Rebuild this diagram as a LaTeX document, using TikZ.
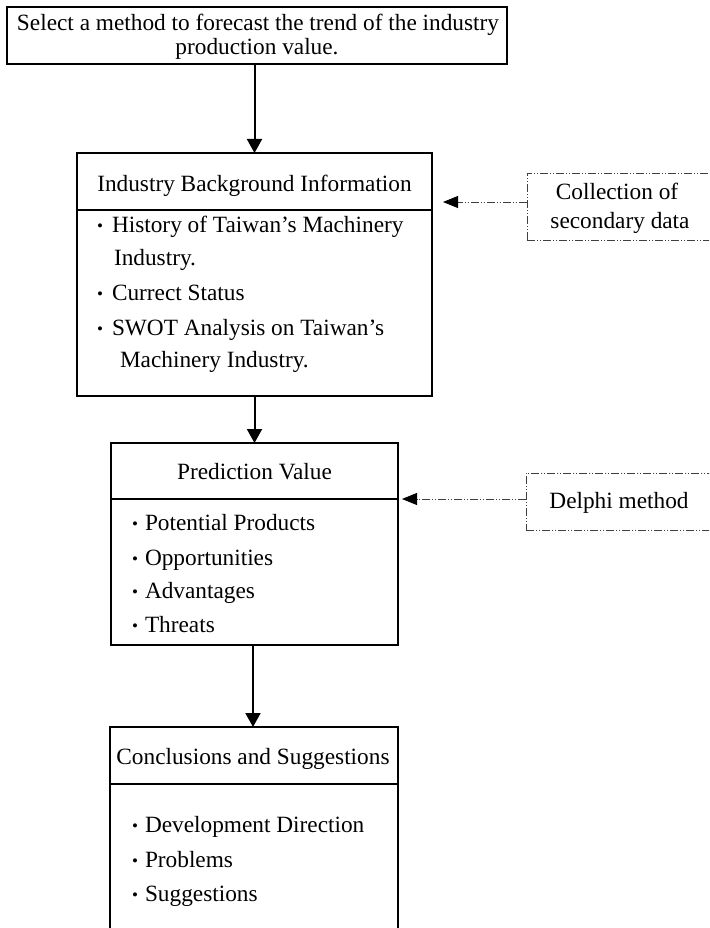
\documentclass[tikz,border=0pt]{standalone}
\usepackage{fontspec}
\setmainfont{Liberation Serif}
\usetikzlibrary{arrows.meta}
\newcommand\fsz{\fontsize{23.3pt}{25pt}\selectfont}
\newcommand\itemdot[1]{\makebox[#1][l]{\raisebox{0.5pt}{\fontsize{17pt}{17pt}\selectfont •}}}
\begin{document}
\begin{tikzpicture}[x=1pt,y=-1pt,
  every node/.style={font=\fsz, inner sep=0pt, outer sep=0pt},
  boxframe/.style={draw, line width=2pt, rectangle},
  dashframe/.style={draw=black!75, line width=0.8pt, rectangle,
    dash pattern=on 8pt off 2pt on 1pt off 2pt on 1pt off 2pt},
  divider/.style={line width=1.8pt},
  flow/.style={line width=2pt, -{Triangle[length=14pt,width=15pt]}},
  feed/.style={draw=black!75, line width=0.8pt,
    dash pattern=on 8pt off 2pt on 1pt off 2pt on 1pt off 2pt,
    -{Triangle[length=15pt,width=12pt,fill=black,color=black]}},
  txt/.style={anchor=base},
  itm/.style={anchor=base west}]
\useasboundingbox (0,0) rectangle (709,928);
\clip (0,0) rectangle (709,928);

% top box
\node[boxframe, minimum width=500pt, minimum height=57pt] (top) at (257,35.5) {};
\node[txt] (top1) at (258,31) {Select a method to forecast the trend of the industry};
\node[txt] (top2) at (257,55) {production value.};

% box 2
\node[boxframe, minimum width=355pt, minimum height=243pt] (b2) at (254.5,274.5) {};
\draw[divider] (b2.west |- 0,210) -- (b2.east |- 0,210);
\node[txt] (b2t) at (254.5,192) {Industry Background Information};
\node[itm] (b2i1) at (97,232) {\itemdot{15pt}History of Taiwan’s Machinery};
\node[itm] (b2i1b) at (114,265) {Industry.};
\node[itm] (b2i2) at (97,300) {\itemdot{15pt}Currect Status};
\node[itm] (b2i3) at (97,335) {\itemdot{15pt}SWOT Analysis on Taiwan’s};
\node[itm] (b2i3b) at (120,367) {Machinery Industry.};

% box 3
\node[boxframe, minimum width=287pt, minimum height=202pt] (b3) at (254.5,544) {};
\draw[divider] (b3.west |- 0,499) -- (b3.east |- 0,499);
\node[txt] (b3t) at (254.5,479) {Prediction Value};
\node[itm] (b3i1) at (132,530) {\itemdot{13pt}Potential Products};
\node[itm] (b3i2) at (132,565) {\itemdot{13pt}Opportunities};
\node[itm] (b3i3) at (132,598) {\itemdot{13pt}Advantages};
\node[itm] (b3i4) at (132,632) {\itemdot{13pt}Threats};

% box 4
\node[boxframe, minimum width=288pt, minimum height=240pt] (b4) at (254,847) {};
\draw[divider] (b4.west |- 0,784) -- (b4.east |- 0,784);
\node[txt] (b4t) at (253,764) {Conclusions and Suggestions};
\node[itm] (b4i1) at (132,832) {\itemdot{13pt}Development Direction};
\node[itm] (b4i2) at (132,867) {\itemdot{13pt}Problems};
\node[itm] (b4i3) at (132,901) {\itemdot{13pt}Suggestions};

% dashed side boxes
\node[dashframe, minimum width=185pt, minimum height=67pt] (d1) at (619.5,206.5) {};
\node[txt] (d1a) at (617,199) {Collection of};
\node[txt] (d1b) at (620,228) {secondary data};
\node[dashframe, minimum width=186pt, minimum height=57pt] (d2) at (619,501.5) {};
\node[txt] (d2a) at (619,508) {Delphi method};

% connectors
\draw[flow] (top.south -| b2.north) -- (b2.north);
\draw[flow] (b2.south) -- (b3.north);
\draw[flow] (b3.south -| 253,0) -- (b4.north -| 253,0);

\coordinate (f1) at (443,202);
\coordinate (f2) at (402,499);
\draw[feed] (d1.west |- f1) -- (f1);
\draw[feed] (d2.west |- f2) -- (f2);
\end{tikzpicture}
\end{document}
